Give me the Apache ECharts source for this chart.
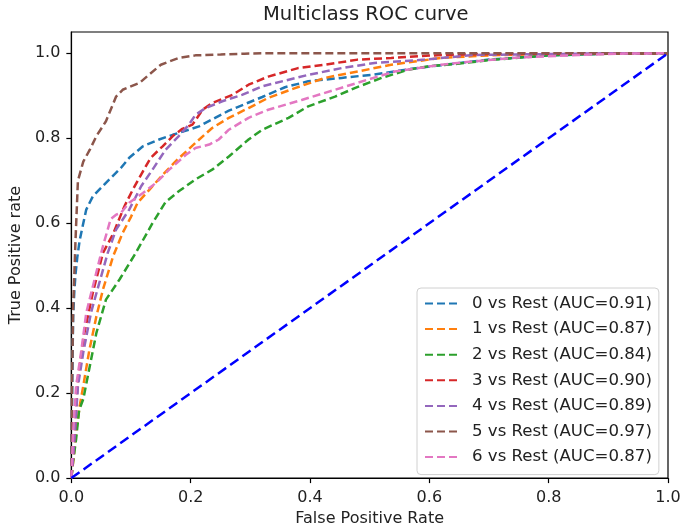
<!DOCTYPE html>
<html>
<head>
<meta charset="utf-8">
<script src="https://cdn.jsdelivr.net/npm/echarts@6/dist/echarts.min.js"></script>
<style>
html,body{margin:0;padding:0;background:#fff;}
#chart{width:685px;height:532px;}
</style>
</head>
<body>
<div id="chart"></div>
<script>
const seriesNames = ['0 vs Rest (AUC=0.91)','1 vs Rest (AUC=0.87)','2 vs Rest (AUC=0.84)','3 vs Rest (AUC=0.90)','4 vs Rest (AUC=0.89)','5 vs Rest (AUC=0.97)','6 vs Rest (AUC=0.87)'];
const xTicks = [0, 0.2, 0.4, 0.6, 0.8, 1.0];
const yTicks = [0, 0.2, 0.4, 0.6, 0.8, 1.0];

const fpr0 = [0, 0.001, 0.002, 0.003, 0.005, 0.007, 0.01, 0.014, 0.02, 0.025, 0.036, 0.058, 0.083, 0.097, 0.12, 0.147, 0.17, 0.197, 0.214, 0.264, 0.32, 0.358, 0.397, 0.453, 0.508, 0.564, 0.62, 0.7, 0.8, 0.9, 1.0];
const tpr0 = [0, 0.15, 0.28, 0.38, 0.44, 0.48, 0.52, 0.56, 0.6, 0.632, 0.663, 0.695, 0.73, 0.754, 0.781, 0.797, 0.808, 0.82, 0.828, 0.865, 0.897, 0.92, 0.934, 0.942, 0.95, 0.962, 0.972, 0.985, 0.995, 0.999, 1.0];

const fpr1 = [0, 0.004, 0.008, 0.014, 0.02, 0.03, 0.042, 0.053, 0.07, 0.086, 0.1, 0.111, 0.131, 0.153, 0.178, 0.208, 0.236, 0.264, 0.297, 0.33, 0.375, 0.425, 0.48, 0.536, 0.62, 0.7, 0.8, 0.9, 1.0];
const tpr1 = [0, 0.05, 0.108, 0.17, 0.217, 0.3, 0.381, 0.444, 0.522, 0.577, 0.615, 0.648, 0.679, 0.714, 0.75, 0.789, 0.824, 0.848, 0.871, 0.895, 0.918, 0.942, 0.957, 0.973, 0.989, 0.995, 0.998, 1.0, 1.0];

const fpr2 = [0, 0.003, 0.008, 0.013, 0.02, 0.031, 0.042, 0.058, 0.081, 0.108, 0.136, 0.158, 0.18, 0.208, 0.236, 0.264, 0.297, 0.32, 0.364, 0.397, 0.442, 0.475, 0.52, 0.564, 0.597, 0.647, 0.7, 0.8, 0.9, 1.0];
const tpr2 = [0, 0.04, 0.092, 0.16, 0.186, 0.264, 0.342, 0.42, 0.468, 0.53, 0.6, 0.65, 0.675, 0.703, 0.726, 0.757, 0.797, 0.82, 0.848, 0.875, 0.898, 0.918, 0.942, 0.961, 0.969, 0.975, 0.984, 0.995, 0.999, 1.0];

const fpr3 = [0, 0.003, 0.006, 0.011, 0.022, 0.036, 0.053, 0.07, 0.089, 0.103, 0.12, 0.133, 0.153, 0.17, 0.186, 0.203, 0.22, 0.236, 0.27, 0.297, 0.33, 0.38, 0.425, 0.48, 0.536, 0.62, 0.7, 0.8, 0.9, 1.0];
const tpr3 = [0, 0.05, 0.108, 0.233, 0.343, 0.436, 0.53, 0.575, 0.64, 0.679, 0.722, 0.754, 0.781, 0.805, 0.822, 0.832, 0.867, 0.883, 0.902, 0.926, 0.945, 0.965, 0.973, 0.985, 0.989, 0.996, 0.998, 0.999, 1.0, 1.0];

const fpr4 = [0, 0.003, 0.006, 0.011, 0.02, 0.033, 0.047, 0.061, 0.075, 0.097, 0.117, 0.136, 0.158, 0.18, 0.197, 0.208, 0.225, 0.253, 0.286, 0.32, 0.342, 0.397, 0.453, 0.508, 0.592, 0.675, 0.8, 0.9, 1.0];
const tpr4 = [0, 0.05, 0.108, 0.216, 0.296, 0.39, 0.46, 0.53, 0.585, 0.632, 0.687, 0.726, 0.773, 0.805, 0.832, 0.855, 0.871, 0.887, 0.902, 0.922, 0.93, 0.949, 0.965, 0.977, 0.985, 0.996, 0.998, 1.0, 1.0];

const fpr5 = [0, 0.001, 0.003, 0.007, 0.011, 0.02, 0.031, 0.042, 0.058, 0.075, 0.086, 0.114, 0.15, 0.18, 0.208, 0.25, 0.29, 0.33, 1.0];
const tpr5 = [0, 0.2, 0.4, 0.56, 0.70, 0.745, 0.773, 0.805, 0.84, 0.898, 0.914, 0.93, 0.973, 0.989, 0.995, 0.997, 0.999, 1.0, 1.0];

const fpr6 = [0, 0.003, 0.008, 0.017, 0.025, 0.039, 0.053, 0.066, 0.075, 0.083, 0.097, 0.12, 0.142, 0.164, 0.192, 0.208, 0.231, 0.247, 0.264, 0.297, 0.33, 0.386, 0.442, 0.497, 0.542, 0.62, 0.675, 0.75, 0.85, 0.92, 1.0];
const tpr6 = [0, 0.108, 0.217, 0.303, 0.389, 0.468, 0.546, 0.61, 0.62, 0.624, 0.648, 0.671, 0.695, 0.726, 0.761, 0.777, 0.785, 0.797, 0.82, 0.848, 0.867, 0.89, 0.914, 0.938, 0.957, 0.973, 0.981, 0.99, 0.996, 0.999, 1.0];

const diagX = [0, 1];
const diagY = [0, 1];

const colors = ['#1f77b4','#ff7f0e','#2ca02c','#d62728','#9467bd','#8c564b','#e377c2'];
const fprs = [fpr0, fpr1, fpr2, fpr3, fpr4, fpr5, fpr6];
const tprs = [tpr0, tpr1, tpr2, tpr3, tpr4, tpr5, tpr6];

const zip = (a, b) => a.map((v, i) => [v, b[i]]);
const FONT = 'DejaVu Sans';
const TXT = '#222';

const series = seriesNames.map((name, i) => ({
  name: name,
  type: 'line',
  data: zip(fprs[i], tprs[i]),
  symbol: 'none',
  showSymbol: false,
  color: colors[i],
  lineStyle: { color: colors[i], width: 2.5, type: [8, 4] },
  z: 2 + i
}));
series.push({
  name: 'diag',
  type: 'line',
  data: zip(diagX, diagY),
  symbol: 'none',
  color: '#0000ff',
  lineStyle: { color: '#0000ff', width: 2.5, type: [10, 5] },
  z: 10
});

const chart = echarts.init(document.getElementById('chart'), null, { renderer: 'canvas' });
chart.setOption({
  animation: false,
  backgroundColor: '#fff',
  title: {
    text: 'Multiclass ROC curve',
    left: 263, top: 5, padding: 0,
    textStyle: { fontFamily: FONT, fontSize: 19.5, fontWeight: 'normal', color: TXT }
  },
  grid: {
    left: 68, right: 17, top: 32, bottom: 53,
    show: true, borderColor: '#000', borderWidth: 1.2, backgroundColor: 'transparent'
  },
  legend: {
    data: seriesNames,
    orient: 'vertical',
    left: 417, top: 288,
    padding: [7, 7, 9, 7],
    itemWidth: 34, itemHeight: 14, itemGap: 8.6,
    itemStyle: { opacity: 0 },
    backgroundColor: 'rgba(255,255,255,0.85)',
    borderColor: '#d0d0d0', borderWidth: 1, borderRadius: 4,
    textStyle: { fontFamily: FONT, fontSize: 16.6, color: TXT, lineHeight: 14, padding: [0, 0, 0, 8] }
  },
  xAxis: {
    type: 'value', min: 0, max: 1, interval: 0.2,
    name: 'False Positive Rate', nameLocation: 'middle', nameGap: 31,
    nameTextStyle: { fontFamily: FONT, fontSize: 16, color: TXT },
    axisLine: { show: true, lineStyle: { color: '#000', width: 1.2 } },
    axisTick: { show: true, length: 5, lineStyle: { color: '#000', width: 1.2 }, customValues: xTicks },
    axisLabel: { margin: 12, fontFamily: FONT, fontSize: 16, color: TXT, customValues: xTicks, formatter: v => v.toFixed(1) },
    splitLine: { show: false }
  },
  yAxis: {
    type: 'value', min: 0, max: 1.05, interval: 0.2,
    name: 'True Positive rate', nameLocation: 'middle', nameGap: 47,
    nameTextStyle: { fontFamily: FONT, fontSize: 16, color: TXT },
    axisLine: { show: true, lineStyle: { color: '#000', width: 1.2 } },
    axisTick: { show: true, length: 5, lineStyle: { color: '#000', width: 1.2 }, customValues: yTicks },
    axisLabel: { margin: 11, fontFamily: FONT, fontSize: 16, color: TXT, customValues: yTicks, formatter: v => v.toFixed(1) },
    splitLine: { show: false }
  },
  series: series
});
</script>
</body>
</html>
